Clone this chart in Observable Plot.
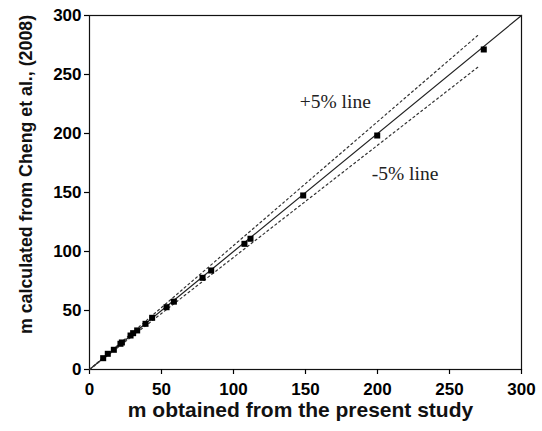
<!DOCTYPE html>
<html>
<head>
<meta charset="utf-8">
<script src="https://cdn.jsdelivr.net/npm/d3@7"></script>
<script src="https://cdn.jsdelivr.net/npm/@observablehq/plot@0.6"></script>
<style>
  html, body { margin: 0; padding: 0; background: #fff; }
  #chart svg { display: block; }
</style>
</head>
<body>
<div id="chart"></div>
<script>
// Data
const presentStudy = [9.5, 12.7, 16.9, 21.5, 22.5, 28.5, 30.3, 33.1, 38.9, 43.5, 53.5, 58.6, 78.5, 84.5, 107.6, 111.8, 148.4, 199.8, 273.8];
const chengEtAl   = [9.6, 13.3, 16.7, 21.8, 22.9, 28.8, 30.8, 33.1, 38.7, 43.8, 52.8, 57.5, 77.7, 83.9, 106.5, 110.8, 147.5, 198.3, 271.2];

// Reference lines
const equalityRange = [0, 300];       // y = x line
const bandRange = [0, 271];           // extent of the ±5% lines
const bandPercents = [5, -5];
const bandLabels = ["+5% line", "-5% line"];
const bandLabelPos = [[146, 227], [196, 166]]; // [x, y] in data units for the labels
const ticks = [0, 50, 100, 150, 200, 250, 300];
const xLabel = "m obtained from the present study";
const yLabel = "m calculated from Cheng et al., (2008)";

const points = presentStudy.map((x, i) => ({x, y: chengEtAl[i]}));
const equality = equalityRange.map(v => ({x: v, y: v}));
const bands = bandPercents.flatMap(p => bandRange.map(v => ({x: v, y: v * (1 + p / 100), band: p})));
const labels = bandLabels.map((t, i) => ({text: t, x: bandLabelPos[i][0], y: bandLabelPos[i][1]}));

const sans = "'Liberation Sans', Arial, sans-serif";

const chart = Plot.plot({
  width: 542,
  height: 431,
  marginLeft: 89,
  marginRight: 21,
  marginTop: 15,
  marginBottom: 62,
  style: {fontFamily: sans, background: "#fff", color: "#000"},
  x: {domain: [0, 300]},
  y: {domain: [0, 300]},
  marks: [
    Plot.frame({stroke: "#111", strokeWidth: 1.2}),
    Plot.axisX({ticks, tickSize: 5, tickPadding: 8, fontSize: 17, fontWeight: "bold", label: null, strokeWidth: 1.2}),
    Plot.axisY({ticks, tickSize: 5, tickPadding: 3, fontSize: 17, fontWeight: "bold", label: null, strokeWidth: 1.2}),
    Plot.text([xLabel], {text: d => d, frameAnchor: "bottom", dx: -5, dy: 47, fontSize: 21, fontWeight: "bold", fontFamily: sans, fill: "#111"}),
    Plot.text([yLabel], {text: d => d, frameAnchor: "left", textAnchor: "middle", dx: -63, dy: -18, rotate: -90, fontSize: 17.8, fontWeight: "bold", fontFamily: sans, fill: "#111"}),
    Plot.line(equality, {x: "x", y: "y", stroke: "#222", strokeWidth: 1.2}),
    Plot.line(bands, {x: "x", y: "y", z: "band", stroke: "#333", strokeWidth: 1.2, strokeDasharray: "2,3"}),
    Plot.dot(points, {x: "x", y: "y", symbol: "square", r: 3.4, fill: "#000", stroke: "none"}),
    Plot.text(labels, {x: "x", y: "y", text: "text", fontFamily: "'Liberation Serif', 'Times New Roman', serif", fontSize: 19.5, fill: "#222", textAnchor: "start"})
  ]
});
document.getElementById("chart").appendChild(chart);
</script>
</body>
</html>
